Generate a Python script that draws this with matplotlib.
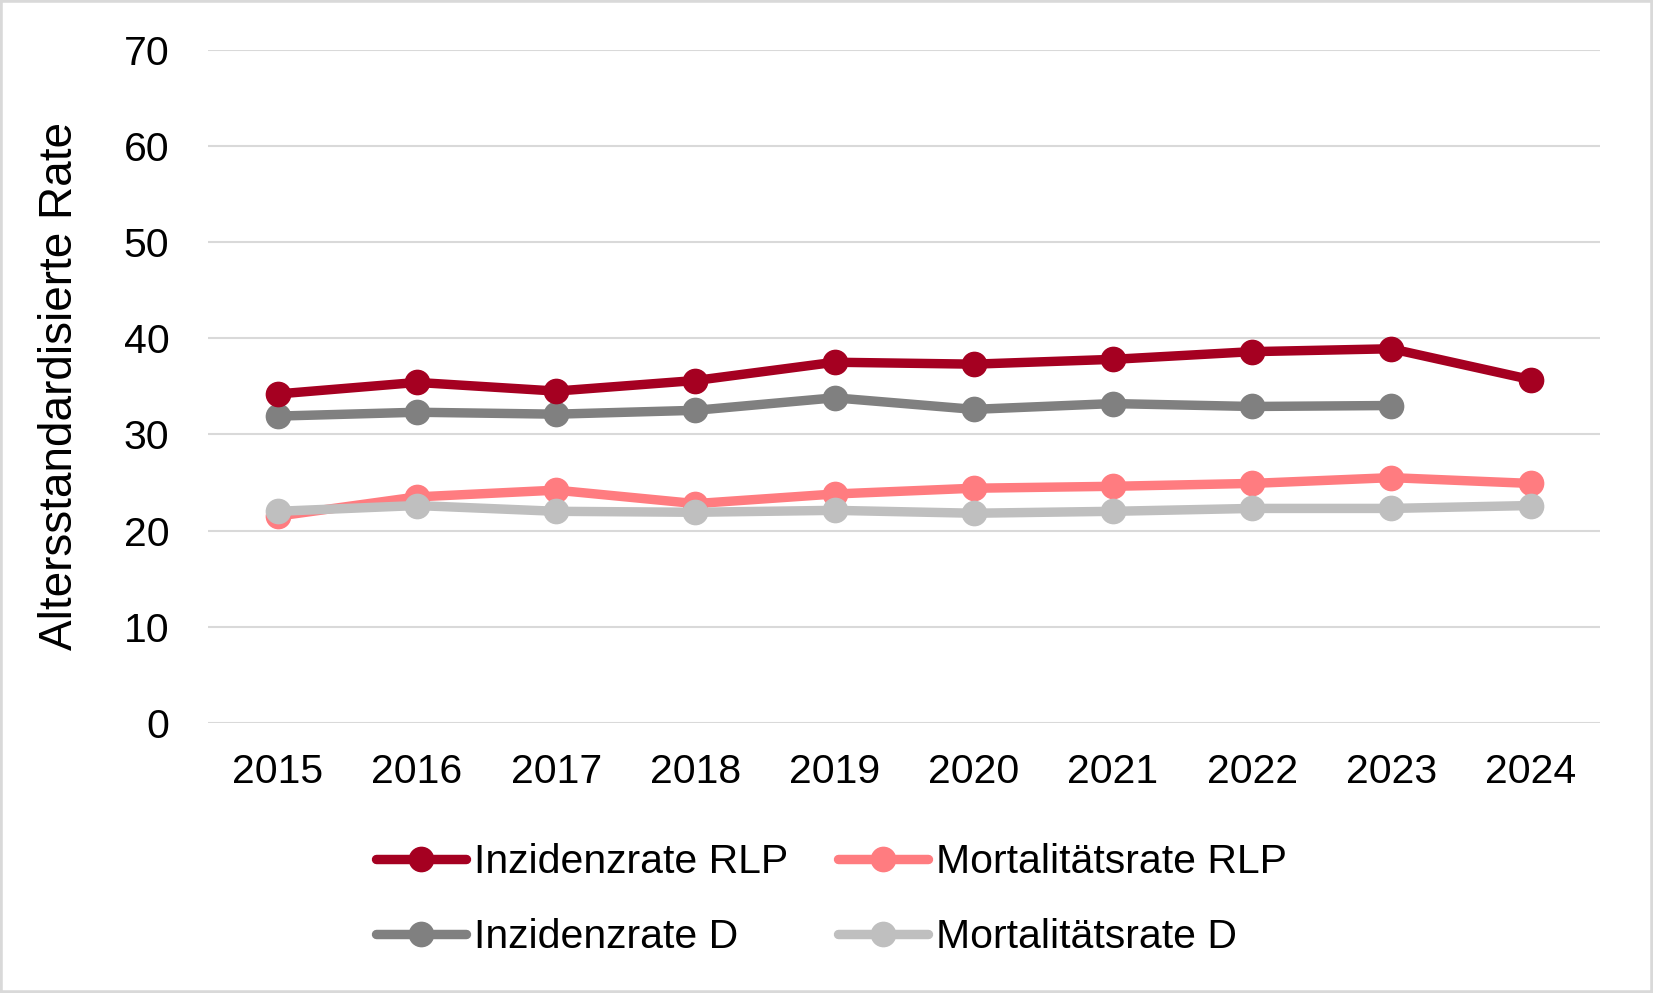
"""Altersstandardisierte Inzidenz- und Mortalitätsraten RLP vs. D, 2015-2024."""

import matplotlib
matplotlib.use("Agg")
import matplotlib.pyplot as plt
from matplotlib.patches import Rectangle
import numpy as np

years = ["2015", "2016", "2017", "2018", "2019", "2020", "2021", "2022", "2023", "2024"]

inzidenz_rlp = [34.2, 35.4, 34.5, 35.6, 37.5, 37.3, 37.8, 38.6, 38.9, 35.7]
inzidenz_d = [31.9, 32.3, 32.1, 32.5, 33.8, 32.6, 33.2, 32.9, 33.0, np.nan]
mortalitaet_rlp = [21.5, 23.5, 24.2, 22.8, 23.8, 24.4, 24.6, 24.9, 25.5, 24.9]
mortalitaet_d = [22.0, 22.6, 22.0, 21.9, 22.1, 21.8, 22.0, 22.3, 22.3, 22.6]

y_ticks = [0, 10, 20, 30, 40, 50, 60, 70]

plt.rcParams["font.family"] = ["Liberation Sans", "DejaVu Sans"]

fig = plt.figure(figsize=(16.53, 9.93), dpi=100)
ax = fig.add_axes([0.126, 0.272, 0.842, 0.678])

x = np.arange(len(years))
line_kw = dict(linewidth=6.8, marker="o", markersize=17.5, solid_capstyle="round")

# draw order: light series first so the dark lines sit on top
ax.plot(x, mortalitaet_rlp, color="#ff7c80", label="Mortalitätsrate RLP", zorder=3, **line_kw)
ax.plot(x, mortalitaet_d, color="#bfbfbf", label="Mortalitätsrate D", zorder=4, **line_kw)
ax.plot(x, inzidenz_d, color="#808080", label="Inzidenzrate D", zorder=3, **line_kw)
ax.plot(x, inzidenz_rlp, color="#a50021", label="Inzidenzrate RLP", zorder=4, **line_kw)

ax.set_xlim(-0.5, len(years) - 0.5)
ax.set_ylim(0, 70)
ax.set_xticks(x)
ax.set_xticklabels(years)
ax.set_yticks(y_ticks)
ax.tick_params(axis="both", length=0, labelsize=29.5)
ax.tick_params(axis="y", pad=28)
ax.tick_params(axis="x", pad=22)
ax.grid(axis="y", color="#d9d9d9", linewidth=1.5)
ax.set_axisbelow(True)
for spine in ax.spines.values():
    spine.set_visible(False)

fig.text(0.036, 0.611, "Altersstandardisierte Rate", rotation=90,
         ha="center", va="center", fontsize=33)

handles, labels = ax.get_legend_handles_labels()
order = ["Inzidenzrate RLP", "Inzidenzrate D", "Mortalitätsrate RLP", "Mortalitätsrate D"]
idx = [labels.index(name) for name in order]
fig.legend([handles[i] for i in idx], [labels[i] for i in idx],
           ncol=2, loc="center", bbox_to_anchor=(0.503, 0.094),
           frameon=False, fontsize=29.5, handlelength=2.2, handletextpad=0.2,
           columnspacing=1.2, labelspacing=0.9, borderaxespad=0)

fig.patches.append(Rectangle((0, 0), 1, 1, transform=fig.transFigure, fill=False,
                             edgecolor="#d9d9d9", linewidth=4))

fig.savefig("out.png", dpi=100)
plt.close(fig)
